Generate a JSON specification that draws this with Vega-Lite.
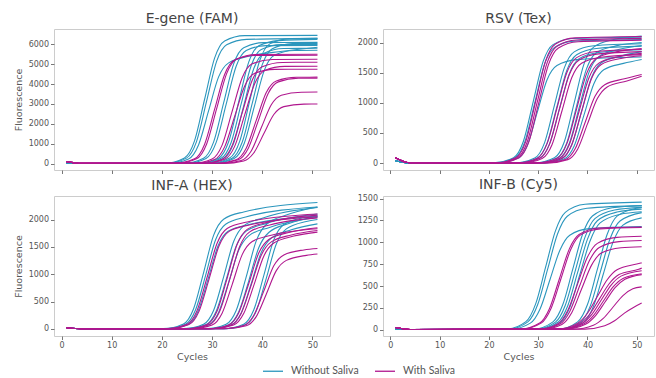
{
"$schema": "https://vega.github.io/schema/vega-lite/v6.json",
"padding": {"left": 12, "top": 11, "right": 0, "bottom": 0},
"datasets": {
"E": [
{"c":"b1","s":"W","x":1,"y":40},{"c":"b1","s":"W","x":4,"y":5},{"c":"b1","s":"W","x":20.5,"y":13},{"c":"b1","s":"W","x":24.5,"y":284},{"c":"b1","s":"W","x":26.5,"y":1142},{"c":"b1","s":"W","x":28.5,"y":3225},{"c":"b1","s":"W","x":30.5,"y":5308},{"c":"b1","s":"W","x":32.5,"y":6166},{"c":"b1","s":"W","x":36.5,"y":6437},{"c":"b1","s":"W","x":51,"y":6450},
{"c":"b2","s":"W","x":1,"y":30},{"c":"b2","s":"W","x":4,"y":5},{"c":"b2","s":"W","x":20.9,"y":13},{"c":"b2","s":"W","x":24.9,"y":275},{"c":"b2","s":"W","x":26.9,"y":1106},{"c":"b2","s":"W","x":28.9,"y":3125},{"c":"b2","s":"W","x":30.9,"y":5144},{"c":"b2","s":"W","x":32.9,"y":5975},{"c":"b2","s":"W","x":36.9,"y":6250},{"c":"b2","s":"W","x":51,"y":6300},
{"c":"b3","s":"W","x":1,"y":30},{"c":"b3","s":"W","x":4,"y":5},{"c":"b3","s":"W","x":21.3,"y":11},{"c":"b3","s":"W","x":25.3,"y":233},{"c":"b3","s":"W","x":27.3,"y":938},{"c":"b3","s":"W","x":29.3,"y":2650},{"c":"b3","s":"W","x":31.3,"y":4362},{"c":"b3","s":"W","x":33.3,"y":5067},{"c":"b3","s":"W","x":37.3,"y":5400},{"c":"b3","s":"W","x":44,"y":5650},{"c":"b3","s":"W","x":51,"y":5850},
{"c":"b4","s":"W","x":1,"y":30},{"c":"b4","s":"W","x":4,"y":5},{"c":"b4","s":"W","x":24.3,"y":12},{"c":"b4","s":"W","x":28.3,"y":268},{"c":"b4","s":"W","x":30.3,"y":1080},{"c":"b4","s":"W","x":32.3,"y":3050},{"c":"b4","s":"W","x":34.3,"y":5020},{"c":"b4","s":"W","x":36.3,"y":5832},{"c":"b4","s":"W","x":40.3,"y":6088},{"c":"b4","s":"W","x":51,"y":6100},
{"c":"b5","s":"W","x":1,"y":30},{"c":"b5","s":"W","x":4,"y":5},{"c":"b5","s":"W","x":24.8,"y":12},{"c":"b5","s":"W","x":28.8,"y":262},{"c":"b5","s":"W","x":30.8,"y":1053},{"c":"b5","s":"W","x":32.8,"y":2975},{"c":"b5","s":"W","x":34.8,"y":4897},{"c":"b5","s":"W","x":36.8,"y":5688},{"c":"b5","s":"W","x":40.8,"y":5938},{"c":"b5","s":"W","x":51,"y":5950},
{"c":"b6","s":"W","x":1,"y":30},{"c":"b6","s":"W","x":4,"y":5},{"c":"b6","s":"W","x":27.3,"y":12},{"c":"b6","s":"W","x":31.3,"y":273},{"c":"b6","s":"W","x":33.3,"y":1097},{"c":"b6","s":"W","x":35.3,"y":3100},{"c":"b6","s":"W","x":37.3,"y":5103},{"c":"b6","s":"W","x":39.3,"y":5927},{"c":"b6","s":"W","x":43.3,"y":6188},{"c":"b6","s":"W","x":51,"y":6250},
{"c":"b7","s":"W","x":1,"y":30},{"c":"b7","s":"W","x":4,"y":5},{"c":"b7","s":"W","x":27.8,"y":12},{"c":"b7","s":"W","x":31.8,"y":264},{"c":"b7","s":"W","x":33.8,"y":1062},{"c":"b7","s":"W","x":35.8,"y":3000},{"c":"b7","s":"W","x":37.8,"y":4938},{"c":"b7","s":"W","x":39.8,"y":5736},{"c":"b7","s":"W","x":43.8,"y":5988},{"c":"b7","s":"W","x":51,"y":6000},
{"c":"b8","s":"W","x":1,"y":30},{"c":"b8","s":"W","x":4,"y":5},{"c":"b8","s":"W","x":28.3,"y":12},{"c":"b8","s":"W","x":32.3,"y":255},{"c":"b8","s":"W","x":34.3,"y":1027},{"c":"b8","s":"W","x":36.3,"y":2900},{"c":"b8","s":"W","x":38.3,"y":4773},{"c":"b8","s":"W","x":40.3,"y":5545},{"c":"b8","s":"W","x":44.3,"y":5788},{"c":"b8","s":"W","x":51,"y":5800},
{"c":"b9","s":"W","x":1,"y":30},{"c":"b9","s":"W","x":4,"y":5},{"c":"b9","s":"W","x":29.5,"y":13},{"c":"b9","s":"W","x":33.5,"y":277},{"c":"b9","s":"W","x":35.5,"y":1115},{"c":"b9","s":"W","x":37.5,"y":3150},{"c":"b9","s":"W","x":39.5,"y":5185},{"c":"b9","s":"W","x":41.5,"y":6023},{"c":"b9","s":"W","x":45.5,"y":6287},{"c":"b9","s":"W","x":51,"y":6300},
{"c":"b10","s":"W","x":1,"y":30},{"c":"b10","s":"W","x":4,"y":5},{"c":"b10","s":"W","x":30,"y":12},{"c":"b10","s":"W","x":34,"y":266},{"c":"b10","s":"W","x":36,"y":1071},{"c":"b10","s":"W","x":38,"y":3025},{"c":"b10","s":"W","x":40,"y":4979},{"c":"b10","s":"W","x":42,"y":5784},{"c":"b10","s":"W","x":46,"y":6038},{"c":"b10","s":"W","x":51,"y":6050},
{"c":"b11","s":"W","x":1,"y":30},{"c":"b11","s":"W","x":4,"y":5},{"c":"b11","s":"W","x":30.4,"y":11},{"c":"b11","s":"W","x":34.4,"y":251},{"c":"b11","s":"W","x":36.4,"y":1009},{"c":"b11","s":"W","x":38.4,"y":2850},{"c":"b11","s":"W","x":40.4,"y":4691},{"c":"b11","s":"W","x":42.4,"y":5449},{"c":"b11","s":"W","x":46.4,"y":5689},{"c":"b11","s":"W","x":51,"y":5700},
{"c":"s1","s":"S","x":1,"y":100},{"c":"s1","s":"S","x":4,"y":10},{"c":"s1","s":"S","x":22.5,"y":11},{"c":"s1","s":"S","x":26.5,"y":240},{"c":"s1","s":"S","x":28.5,"y":965},{"c":"s1","s":"S","x":30.5,"y":2725},{"c":"s1","s":"S","x":32.5,"y":4485},{"c":"s1","s":"S","x":34.5,"y":5210},{"c":"s1","s":"S","x":38.5,"y":5439},{"c":"s1","s":"S","x":51,"y":5450},
{"c":"s2","s":"S","x":1,"y":90},{"c":"s2","s":"S","x":4,"y":10},{"c":"s2","s":"S","x":22.9,"y":11},{"c":"s2","s":"S","x":26.9,"y":242},{"c":"s2","s":"S","x":28.9,"y":974},{"c":"s2","s":"S","x":30.9,"y":2750},{"c":"s2","s":"S","x":32.9,"y":4527},{"c":"s2","s":"S","x":34.9,"y":5258},{"c":"s2","s":"S","x":38.9,"y":5489},{"c":"s2","s":"S","x":51,"y":5500},
{"c":"s3","s":"S","x":1,"y":100},{"c":"s3","s":"S","x":4,"y":10},{"c":"s3","s":"S","x":26,"y":11},{"c":"s3","s":"S","x":30,"y":231},{"c":"s3","s":"S","x":32,"y":929},{"c":"s3","s":"S","x":34,"y":2625},{"c":"s3","s":"S","x":36,"y":4321},{"c":"s3","s":"S","x":38,"y":5019},{"c":"s3","s":"S","x":42,"y":5240},{"c":"s3","s":"S","x":51,"y":5250},
{"c":"s4","s":"S","x":1,"y":100},{"c":"s4","s":"S","x":4,"y":10},{"c":"s4","s":"S","x":26.5,"y":10},{"c":"s4","s":"S","x":30.5,"y":209},{"c":"s4","s":"S","x":32.5,"y":841},{"c":"s4","s":"S","x":34.5,"y":2375},{"c":"s4","s":"S","x":36.5,"y":3909},{"c":"s4","s":"S","x":38.5,"y":4541},{"c":"s4","s":"S","x":42.5,"y":4741},{"c":"s4","s":"S","x":51,"y":4750},
{"c":"s5","s":"S","x":1,"y":100},{"c":"s5","s":"S","x":4,"y":10},{"c":"s5","s":"S","x":28,"y":10},{"c":"s5","s":"S","x":32,"y":224},{"c":"s5","s":"S","x":34,"y":903},{"c":"s5","s":"S","x":36,"y":2550},{"c":"s5","s":"S","x":38,"y":4197},{"c":"s5","s":"S","x":40,"y":4876},{"c":"s5","s":"S","x":44,"y":5090},{"c":"s5","s":"S","x":51,"y":5100},
{"c":"s6","s":"S","x":1,"y":100},{"c":"s6","s":"S","x":4,"y":10},{"c":"s6","s":"S","x":28.5,"y":10},{"c":"s6","s":"S","x":32.5,"y":216},{"c":"s6","s":"S","x":34.5,"y":867},{"c":"s6","s":"S","x":36.5,"y":2450},{"c":"s6","s":"S","x":38.5,"y":4033},{"c":"s6","s":"S","x":40.5,"y":4684},{"c":"s6","s":"S","x":44.5,"y":4890},{"c":"s6","s":"S","x":51,"y":4900},
{"c":"s7","s":"S","x":1,"y":100},{"c":"s7","s":"S","x":4,"y":10},{"c":"s7","s":"S","x":30.8,"y":9},{"c":"s7","s":"S","x":34.8,"y":191},{"c":"s7","s":"S","x":36.8,"y":770},{"c":"s7","s":"S","x":38.8,"y":2175},{"c":"s7","s":"S","x":40.8,"y":3580},{"c":"s7","s":"S","x":42.8,"y":4159},{"c":"s7","s":"S","x":46.8,"y":4341},{"c":"s7","s":"S","x":51,"y":4350},
{"c":"s8","s":"S","x":1,"y":100},{"c":"s8","s":"S","x":4,"y":10},{"c":"s8","s":"S","x":31.2,"y":9},{"c":"s8","s":"S","x":35.2,"y":189},{"c":"s8","s":"S","x":37.2,"y":761},{"c":"s8","s":"S","x":39.2,"y":2150},{"c":"s8","s":"S","x":41.2,"y":3539},{"c":"s8","s":"S","x":43.2,"y":4111},{"c":"s8","s":"S","x":47.2,"y":4291},{"c":"s8","s":"S","x":51,"y":4300},
{"c":"s9","s":"S","x":1,"y":100},{"c":"s9","s":"S","x":4,"y":10},{"c":"s9","s":"S","x":31.8,"y":7},{"c":"s9","s":"S","x":35.8,"y":158},{"c":"s9","s":"S","x":37.8,"y":637},{"c":"s9","s":"S","x":39.8,"y":1800},{"c":"s9","s":"S","x":41.8,"y":2963},{"c":"s9","s":"S","x":43.8,"y":3442},{"c":"s9","s":"S","x":47.8,"y":3593},{"c":"s9","s":"S","x":51,"y":3600},
{"c":"s10","s":"S","x":1,"y":100},{"c":"s10","s":"S","x":4,"y":10},{"c":"s10","s":"S","x":32.3,"y":6},{"c":"s10","s":"S","x":36.3,"y":132},{"c":"s10","s":"S","x":38.3,"y":531},{"c":"s10","s":"S","x":40.3,"y":1500},{"c":"s10","s":"S","x":42.3,"y":2469},{"c":"s10","s":"S","x":44.3,"y":2868},{"c":"s10","s":"S","x":48.3,"y":2994},{"c":"s10","s":"S","x":51,"y":3000}
],
"R": [
{"c":"b1","s":"W","x":1,"y":40},{"c":"b1","s":"W","x":4,"y":0},{"c":"b1","s":"W","x":21,"y":4},{"c":"b1","s":"W","x":25,"y":90},{"c":"b1","s":"W","x":27,"y":363},{"c":"b1","s":"W","x":29,"y":1025},{"c":"b1","s":"W","x":31,"y":1687},{"c":"b1","s":"W","x":33,"y":1966},{"c":"b1","s":"W","x":37,"y":2068},{"c":"b1","s":"W","x":51,"y":2090},
{"c":"b2","s":"W","x":1,"y":40},{"c":"b2","s":"W","x":4,"y":0},{"c":"b2","s":"W","x":21.3,"y":4},{"c":"b2","s":"W","x":25.3,"y":88},{"c":"b2","s":"W","x":27.3,"y":354},{"c":"b2","s":"W","x":29.3,"y":1000},{"c":"b2","s":"W","x":31.3,"y":1646},{"c":"b2","s":"W","x":33.3,"y":1920},{"c":"b2","s":"W","x":37.3,"y":2023},{"c":"b2","s":"W","x":51,"y":2050},
{"c":"b3","s":"W","x":1,"y":40},{"c":"b3","s":"W","x":4,"y":0},{"c":"b3","s":"W","x":21.8,"y":3},{"c":"b3","s":"W","x":25.8,"y":74},{"c":"b3","s":"W","x":27.8,"y":297},{"c":"b3","s":"W","x":29.8,"y":840},{"c":"b3","s":"W","x":31.8,"y":1383},{"c":"b3","s":"W","x":33.8,"y":1618},{"c":"b3","s":"W","x":37.8,"y":1716},{"c":"b3","s":"W","x":51,"y":1760},
{"c":"b4","s":"W","x":1,"y":40},{"c":"b4","s":"W","x":4,"y":0},{"c":"b4","s":"W","x":25.3,"y":4},{"c":"b4","s":"W","x":29.3,"y":84},{"c":"b4","s":"W","x":31.3,"y":340},{"c":"b4","s":"W","x":33.3,"y":960},{"c":"b4","s":"W","x":35.3,"y":1580},{"c":"b4","s":"W","x":37.3,"y":1845},{"c":"b4","s":"W","x":41.3,"y":1947},{"c":"b4","s":"W","x":51,"y":1980},
{"c":"b5","s":"W","x":1,"y":40},{"c":"b5","s":"W","x":4,"y":0},{"c":"b5","s":"W","x":25.8,"y":4},{"c":"b5","s":"W","x":29.8,"y":82},{"c":"b5","s":"W","x":31.8,"y":331},{"c":"b5","s":"W","x":33.8,"y":935},{"c":"b5","s":"W","x":35.8,"y":1539},{"c":"b5","s":"W","x":37.8,"y":1798},{"c":"b5","s":"W","x":41.8,"y":1902},{"c":"b5","s":"W","x":51,"y":1940},
{"c":"b6","s":"W","x":1,"y":40},{"c":"b6","s":"W","x":4,"y":0},{"c":"b6","s":"W","x":26.3,"y":4},{"c":"b6","s":"W","x":30.3,"y":79},{"c":"b6","s":"W","x":32.3,"y":319},{"c":"b6","s":"W","x":34.3,"y":900},{"c":"b6","s":"W","x":36.3,"y":1481},{"c":"b6","s":"W","x":38.3,"y":1733},{"c":"b6","s":"W","x":42.3,"y":1836},{"c":"b6","s":"W","x":51,"y":1880},
{"c":"b7","s":"W","x":1,"y":40},{"c":"b7","s":"W","x":4,"y":0},{"c":"b7","s":"W","x":29.3,"y":4},{"c":"b7","s":"W","x":33.3,"y":88},{"c":"b7","s":"W","x":35.3,"y":354},{"c":"b7","s":"W","x":37.3,"y":1000},{"c":"b7","s":"W","x":39.3,"y":1646},{"c":"b7","s":"W","x":41.3,"y":1929},{"c":"b7","s":"W","x":45.3,"y":2050},{"c":"b7","s":"W","x":51,"y":2110},
{"c":"b8","s":"W","x":1,"y":40},{"c":"b8","s":"W","x":4,"y":0},{"c":"b8","s":"W","x":29.8,"y":4},{"c":"b8","s":"W","x":33.8,"y":84},{"c":"b8","s":"W","x":35.8,"y":336},{"c":"b8","s":"W","x":37.8,"y":950},{"c":"b8","s":"W","x":39.8,"y":1564},{"c":"b8","s":"W","x":41.8,"y":1831},{"c":"b8","s":"W","x":45.8,"y":1945},{"c":"b8","s":"W","x":51,"y":2000},
{"c":"b9","s":"W","x":1,"y":40},{"c":"b9","s":"W","x":4,"y":0},{"c":"b9","s":"W","x":30.3,"y":4},{"c":"b9","s":"W","x":34.3,"y":81},{"c":"b9","s":"W","x":36.3,"y":324},{"c":"b9","s":"W","x":38.3,"y":915},{"c":"b9","s":"W","x":40.3,"y":1506},{"c":"b9","s":"W","x":42.3,"y":1767},{"c":"b9","s":"W","x":46.3,"y":1884},{"c":"b9","s":"W","x":51,"y":1950},
{"c":"b10","s":"W","x":1,"y":40},{"c":"b10","s":"W","x":4,"y":0},{"c":"b10","s":"W","x":30.8,"y":3},{"c":"b10","s":"W","x":34.8,"y":76},{"c":"b10","s":"W","x":36.8,"y":304},{"c":"b10","s":"W","x":38.8,"y":860},{"c":"b10","s":"W","x":40.8,"y":1416},{"c":"b10","s":"W","x":42.8,"y":1664},{"c":"b10","s":"W","x":46.8,"y":1778},{"c":"b10","s":"W","x":51,"y":1850},
{"c":"b11","s":"W","x":1,"y":40},{"c":"b11","s":"W","x":4,"y":0},{"c":"b11","s":"W","x":31.3,"y":3},{"c":"b11","s":"W","x":35.3,"y":70},{"c":"b11","s":"W","x":37.3,"y":283},{"c":"b11","s":"W","x":39.3,"y":800},{"c":"b11","s":"W","x":41.3,"y":1317},{"c":"b11","s":"W","x":43.3,"y":1548},{"c":"b11","s":"W","x":47.3,"y":1654},{"c":"b11","s":"W","x":51,"y":1720},
{"c":"s1","s":"S","x":1,"y":90},{"c":"s1","s":"S","x":4,"y":5},{"c":"s1","s":"S","x":21.5,"y":4},{"c":"s1","s":"S","x":25.5,"y":91},{"c":"s1","s":"S","x":27.5,"y":365},{"c":"s1","s":"S","x":29.5,"y":1030},{"c":"s1","s":"S","x":31.5,"y":1695},{"c":"s1","s":"S","x":33.5,"y":1975},{"c":"s1","s":"S","x":37.5,"y":2078},{"c":"s1","s":"S","x":51,"y":2100},
{"c":"s2","s":"S","x":1,"y":90},{"c":"s2","s":"S","x":4,"y":5},{"c":"s2","s":"S","x":21.8,"y":4},{"c":"s2","s":"S","x":25.8,"y":89},{"c":"s2","s":"S","x":27.8,"y":358},{"c":"s2","s":"S","x":29.8,"y":1010},{"c":"s2","s":"S","x":31.8,"y":1662},{"c":"s2","s":"S","x":33.8,"y":1939},{"c":"s2","s":"S","x":37.8,"y":2043},{"c":"s2","s":"S","x":51,"y":2070},
{"c":"s3","s":"S","x":1,"y":90},{"c":"s3","s":"S","x":4,"y":5},{"c":"s3","s":"S","x":22.1,"y":4},{"c":"s3","s":"S","x":26.1,"y":88},{"c":"s3","s":"S","x":28.1,"y":352},{"c":"s3","s":"S","x":30.1,"y":995},{"c":"s3","s":"S","x":32.1,"y":1638},{"c":"s3","s":"S","x":34.1,"y":1910},{"c":"s3","s":"S","x":38.1,"y":2013},{"c":"s3","s":"S","x":51,"y":2040},
{"c":"s4","s":"S","x":1,"y":90},{"c":"s4","s":"S","x":4,"y":5},{"c":"s4","s":"S","x":25.8,"y":4},{"c":"s4","s":"S","x":29.8,"y":80},{"c":"s4","s":"S","x":31.8,"y":322},{"c":"s4","s":"S","x":33.8,"y":910},{"c":"s4","s":"S","x":35.8,"y":1498},{"c":"s4","s":"S","x":37.8,"y":1750},{"c":"s4","s":"S","x":41.8,"y":1852},{"c":"s4","s":"S","x":51,"y":1890},
{"c":"s5","s":"S","x":1,"y":90},{"c":"s5","s":"S","x":4,"y":5},{"c":"s5","s":"S","x":26.3,"y":4},{"c":"s5","s":"S","x":30.3,"y":78},{"c":"s5","s":"S","x":32.3,"y":315},{"c":"s5","s":"S","x":34.3,"y":890},{"c":"s5","s":"S","x":36.3,"y":1465},{"c":"s5","s":"S","x":38.3,"y":1712},{"c":"s5","s":"S","x":42.3,"y":1812},{"c":"s5","s":"S","x":51,"y":1850},
{"c":"s6","s":"S","x":1,"y":90},{"c":"s6","s":"S","x":4,"y":5},{"c":"s6","s":"S","x":26.8,"y":3},{"c":"s6","s":"S","x":30.8,"y":76},{"c":"s6","s":"S","x":32.8,"y":304},{"c":"s6","s":"S","x":34.8,"y":860},{"c":"s6","s":"S","x":36.8,"y":1416},{"c":"s6","s":"S","x":38.8,"y":1656},{"c":"s6","s":"S","x":42.8,"y":1756},{"c":"s6","s":"S","x":51,"y":1800},
{"c":"s7","s":"S","x":1,"y":90},{"c":"s7","s":"S","x":4,"y":5},{"c":"s7","s":"S","x":29.8,"y":4},{"c":"s7","s":"S","x":33.8,"y":79},{"c":"s7","s":"S","x":35.8,"y":319},{"c":"s7","s":"S","x":37.8,"y":900},{"c":"s7","s":"S","x":39.8,"y":1481},{"c":"s7","s":"S","x":41.8,"y":1736},{"c":"s7","s":"S","x":45.8,"y":1845},{"c":"s7","s":"S","x":51,"y":1900},
{"c":"s8","s":"S","x":1,"y":90},{"c":"s8","s":"S","x":4,"y":5},{"c":"s8","s":"S","x":30.3,"y":3},{"c":"s8","s":"S","x":34.3,"y":76},{"c":"s8","s":"S","x":36.3,"y":304},{"c":"s8","s":"S","x":38.3,"y":860},{"c":"s8","s":"S","x":40.3,"y":1416},{"c":"s8","s":"S","x":42.3,"y":1659},{"c":"s8","s":"S","x":46.3,"y":1765},{"c":"s8","s":"S","x":51,"y":1820},
{"c":"s9","s":"S","x":1,"y":90},{"c":"s9","s":"S","x":4,"y":5},{"c":"s9","s":"S","x":30.8,"y":3},{"c":"s9","s":"S","x":34.8,"y":75},{"c":"s9","s":"S","x":36.8,"y":301},{"c":"s9","s":"S","x":38.8,"y":850},{"c":"s9","s":"S","x":40.8,"y":1399},{"c":"s9","s":"S","x":42.8,"y":1637},{"c":"s9","s":"S","x":46.8,"y":1736},{"c":"s9","s":"S","x":51,"y":1780},
{"c":"s10","s":"S","x":1,"y":90},{"c":"s10","s":"S","x":4,"y":5},{"c":"s10","s":"S","x":31.5,"y":3},{"c":"s10","s":"S","x":35.5,"y":59},{"c":"s10","s":"S","x":37.5,"y":237},{"c":"s10","s":"S","x":39.5,"y":670},{"c":"s10","s":"S","x":41.5,"y":1103},{"c":"s10","s":"S","x":43.5,"y":1301},{"c":"s10","s":"S","x":47.5,"y":1398},{"c":"s10","s":"S","x":51,"y":1470},
{"c":"s11","s":"S","x":1,"y":90},{"c":"s11","s":"S","x":4,"y":5},{"c":"s11","s":"S","x":32,"y":3},{"c":"s11","s":"S","x":36,"y":57},{"c":"s11","s":"S","x":38,"y":230},{"c":"s11","s":"S","x":40,"y":650},{"c":"s11","s":"S","x":42,"y":1070},{"c":"s11","s":"S","x":44,"y":1264},{"c":"s11","s":"S","x":48,"y":1363},{"c":"s11","s":"S","x":51,"y":1440}
],
"A": [
{"c":"b1","s":"W","x":1,"y":20},{"c":"b1","s":"W","x":4,"y":3},{"c":"b1","s":"W","x":20.3,"y":4},{"c":"b1","s":"W","x":24.3,"y":90},{"c":"b1","s":"W","x":26.3,"y":363},{"c":"b1","s":"W","x":28.3,"y":1025},{"c":"b1","s":"W","x":30.3,"y":1710},{"c":"b1","s":"W","x":32.3,"y":2006},{"c":"b1","s":"W","x":36.3,"y":2138},{"c":"b1","s":"W","x":51,"y":2310},
{"c":"b2","s":"W","x":1,"y":20},{"c":"b2","s":"W","x":4,"y":3},{"c":"b2","s":"W","x":20.7,"y":4},{"c":"b2","s":"W","x":24.7,"y":86},{"c":"b2","s":"W","x":26.7,"y":345},{"c":"b2","s":"W","x":28.7,"y":975},{"c":"b2","s":"W","x":30.7,"y":1630},{"c":"b2","s":"W","x":32.7,"y":1914},{"c":"b2","s":"W","x":36.7,"y":2046},{"c":"b2","s":"W","x":51,"y":2230},
{"c":"b3","s":"W","x":1,"y":20},{"c":"b3","s":"W","x":4,"y":3},{"c":"b3","s":"W","x":21.2,"y":4},{"c":"b3","s":"W","x":25.2,"y":80},{"c":"b3","s":"W","x":27.2,"y":322},{"c":"b3","s":"W","x":29.2,"y":910},{"c":"b3","s":"W","x":31.2,"y":1520},{"c":"b3","s":"W","x":33.2,"y":1784},{"c":"b3","s":"W","x":37.2,"y":1904},{"c":"b3","s":"W","x":51,"y":2060},
{"c":"b4","s":"W","x":1,"y":20},{"c":"b4","s":"W","x":4,"y":3},{"c":"b4","s":"W","x":24.3,"y":4},{"c":"b4","s":"W","x":28.3,"y":84},{"c":"b4","s":"W","x":30.3,"y":336},{"c":"b4","s":"W","x":32.3,"y":950},{"c":"b4","s":"W","x":34.3,"y":1598},{"c":"b4","s":"W","x":36.3,"y":1884},{"c":"b4","s":"W","x":40.3,"y":2033},{"c":"b4","s":"W","x":51,"y":2220},
{"c":"b5","s":"W","x":1,"y":20},{"c":"b5","s":"W","x":4,"y":3},{"c":"b5","s":"W","x":24.8,"y":4},{"c":"b5","s":"W","x":28.8,"y":79},{"c":"b5","s":"W","x":30.8,"y":319},{"c":"b5","s":"W","x":32.8,"y":900},{"c":"b5","s":"W","x":34.8,"y":1514},{"c":"b5","s":"W","x":36.8,"y":1787},{"c":"b5","s":"W","x":40.8,"y":1928},{"c":"b5","s":"W","x":51,"y":2100},
{"c":"b6","s":"W","x":1,"y":20},{"c":"b6","s":"W","x":4,"y":3},{"c":"b6","s":"W","x":25.3,"y":3},{"c":"b6","s":"W","x":29.3,"y":75},{"c":"b6","s":"W","x":31.3,"y":301},{"c":"b6","s":"W","x":33.3,"y":850},{"c":"b6","s":"W","x":35.3,"y":1437},{"c":"b6","s":"W","x":37.3,"y":1702},{"c":"b6","s":"W","x":41.3,"y":1851},{"c":"b6","s":"W","x":51,"y":2040},
{"c":"b7","s":"W","x":1,"y":20},{"c":"b7","s":"W","x":4,"y":3},{"c":"b7","s":"W","x":28.8,"y":4},{"c":"b7","s":"W","x":32.8,"y":84},{"c":"b7","s":"W","x":34.8,"y":336},{"c":"b7","s":"W","x":36.8,"y":950},{"c":"b7","s":"W","x":38.8,"y":1610},{"c":"b7","s":"W","x":40.8,"y":1909},{"c":"b7","s":"W","x":44.8,"y":2082},{"c":"b7","s":"W","x":51,"y":2230},
{"c":"b8","s":"W","x":1,"y":20},{"c":"b8","s":"W","x":4,"y":3},{"c":"b8","s":"W","x":29.3,"y":4},{"c":"b8","s":"W","x":33.3,"y":77},{"c":"b8","s":"W","x":35.3,"y":310},{"c":"b8","s":"W","x":37.3,"y":875},{"c":"b8","s":"W","x":39.3,"y":1485},{"c":"b8","s":"W","x":41.3,"y":1763},{"c":"b8","s":"W","x":45.3,"y":1928},{"c":"b8","s":"W","x":51,"y":2060},
{"c":"b9","s":"W","x":1,"y":20},{"c":"b9","s":"W","x":4,"y":3},{"c":"b9","s":"W","x":29.8,"y":3},{"c":"b9","s":"W","x":33.8,"y":73},{"c":"b9","s":"W","x":35.8,"y":292},{"c":"b9","s":"W","x":37.8,"y":825},{"c":"b9","s":"W","x":39.8,"y":1399},{"c":"b9","s":"W","x":41.8,"y":1659},{"c":"b9","s":"W","x":45.8,"y":1811},{"c":"b9","s":"W","x":51,"y":1920},
{"c":"b10","s":"W","x":1,"y":20},{"c":"b10","s":"W","x":4,"y":3},{"c":"b10","s":"W","x":32.3,"y":4},{"c":"b10","s":"W","x":36.3,"y":86},{"c":"b10","s":"W","x":38.3,"y":345},{"c":"b10","s":"W","x":40.3,"y":975},{"c":"b10","s":"W","x":42.3,"y":1627},{"c":"b10","s":"W","x":44.3,"y":1909},{"c":"b10","s":"W","x":48.3,"y":2036},{"c":"b10","s":"W","x":51,"y":2070},
{"c":"b11","s":"W","x":1,"y":20},{"c":"b11","s":"W","x":4,"y":3},{"c":"b11","s":"W","x":32.8,"y":4},{"c":"b11","s":"W","x":36.8,"y":81},{"c":"b11","s":"W","x":38.8,"y":327},{"c":"b11","s":"W","x":40.8,"y":925},{"c":"b11","s":"W","x":42.8,"y":1552},{"c":"b11","s":"W","x":44.8,"y":1828},{"c":"b11","s":"W","x":48.8,"y":1964},{"c":"b11","s":"W","x":51,"y":2000},
{"c":"s1","s":"S","x":1,"y":20},{"c":"s1","s":"S","x":4,"y":3},{"c":"s1","s":"S","x":21,"y":4},{"c":"s1","s":"S","x":25,"y":83},{"c":"s1","s":"S","x":27,"y":333},{"c":"s1","s":"S","x":29,"y":940},{"c":"s1","s":"S","x":31,"y":1567},{"c":"s1","s":"S","x":33,"y":1837},{"c":"s1","s":"S","x":37,"y":1956},{"c":"s1","s":"S","x":51,"y":2100},
{"c":"s2","s":"S","x":1,"y":20},{"c":"s2","s":"S","x":4,"y":3},{"c":"s2","s":"S","x":21.4,"y":4},{"c":"s2","s":"S","x":25.4,"y":80},{"c":"s2","s":"S","x":27.4,"y":322},{"c":"s2","s":"S","x":29.4,"y":910},{"c":"s2","s":"S","x":31.4,"y":1519},{"c":"s2","s":"S","x":33.4,"y":1783},{"c":"s2","s":"S","x":37.4,"y":1901},{"c":"s2","s":"S","x":51,"y":2050},
{"c":"s3","s":"S","x":1,"y":20},{"c":"s3","s":"S","x":4,"y":3},{"c":"s3","s":"S","x":25,"y":4},{"c":"s3","s":"S","x":29,"y":81},{"c":"s3","s":"S","x":31,"y":327},{"c":"s3","s":"S","x":33,"y":925},{"c":"s3","s":"S","x":35,"y":1549},{"c":"s3","s":"S","x":37,"y":1820},{"c":"s3","s":"S","x":41,"y":1948},{"c":"s3","s":"S","x":51,"y":2080},
{"c":"s4","s":"S","x":1,"y":20},{"c":"s4","s":"S","x":4,"y":3},{"c":"s4","s":"S","x":25.5,"y":4},{"c":"s4","s":"S","x":29.5,"y":79},{"c":"s4","s":"S","x":31.5,"y":319},{"c":"s4","s":"S","x":33.5,"y":900},{"c":"s4","s":"S","x":35.5,"y":1507},{"c":"s4","s":"S","x":37.5,"y":1774},{"c":"s4","s":"S","x":41.5,"y":1901},{"c":"s4","s":"S","x":51,"y":2030},
{"c":"s5","s":"S","x":1,"y":20},{"c":"s5","s":"S","x":4,"y":3},{"c":"s5","s":"S","x":26,"y":3},{"c":"s5","s":"S","x":30,"y":71},{"c":"s5","s":"S","x":32,"y":287},{"c":"s5","s":"S","x":34,"y":810},{"c":"s5","s":"S","x":36,"y":1358},{"c":"s5","s":"S","x":38,"y":1598},{"c":"s5","s":"S","x":42,"y":1716},{"c":"s5","s":"S","x":51,"y":1830},
{"c":"s6","s":"S","x":1,"y":20},{"c":"s6","s":"S","x":4,"y":3},{"c":"s6","s":"S","x":29.3,"y":3},{"c":"s6","s":"S","x":33.3,"y":73},{"c":"s6","s":"S","x":35.3,"y":292},{"c":"s6","s":"S","x":37.3,"y":825},{"c":"s6","s":"S","x":39.3,"y":1387},{"c":"s6","s":"S","x":41.3,"y":1635},{"c":"s6","s":"S","x":45.3,"y":1764},{"c":"s6","s":"S","x":51,"y":1850},
{"c":"s7","s":"S","x":1,"y":20},{"c":"s7","s":"S","x":4,"y":3},{"c":"s7","s":"S","x":29.8,"y":3},{"c":"s7","s":"S","x":33.8,"y":70},{"c":"s7","s":"S","x":35.8,"y":283},{"c":"s7","s":"S","x":37.8,"y":800},{"c":"s7","s":"S","x":39.8,"y":1347},{"c":"s7","s":"S","x":41.8,"y":1591},{"c":"s7","s":"S","x":45.8,"y":1718},{"c":"s7","s":"S","x":51,"y":1800},
{"c":"s8","s":"S","x":1,"y":20},{"c":"s8","s":"S","x":4,"y":3},{"c":"s8","s":"S","x":30.3,"y":3},{"c":"s8","s":"S","x":34.3,"y":70},{"c":"s8","s":"S","x":36.3,"y":280},{"c":"s8","s":"S","x":38.3,"y":790},{"c":"s8","s":"S","x":40.3,"y":1330},{"c":"s8","s":"S","x":42.3,"y":1570},{"c":"s8","s":"S","x":46.3,"y":1697},{"c":"s8","s":"S","x":51,"y":1770},
{"c":"s9","s":"S","x":1,"y":20},{"c":"s9","s":"S","x":4,"y":3},{"c":"s9","s":"S","x":32.3,"y":3},{"c":"s9","s":"S","x":36.3,"y":61},{"c":"s9","s":"S","x":38.3,"y":244},{"c":"s9","s":"S","x":40.3,"y":690},{"c":"s9","s":"S","x":42.3,"y":1153},{"c":"s9","s":"S","x":44.3,"y":1353},{"c":"s9","s":"S","x":48.3,"y":1444},{"c":"s9","s":"S","x":51,"y":1470},
{"c":"s10","s":"S","x":1,"y":20},{"c":"s10","s":"S","x":4,"y":3},{"c":"s10","s":"S","x":32.8,"y":3},{"c":"s10","s":"S","x":36.8,"y":56},{"c":"s10","s":"S","x":38.8,"y":225},{"c":"s10","s":"S","x":40.8,"y":635},{"c":"s10","s":"S","x":42.8,"y":1065},{"c":"s10","s":"S","x":44.8,"y":1253},{"c":"s10","s":"S","x":48.8,"y":1345},{"c":"s10","s":"S","x":51,"y":1370}
],
"B": [
{"c":"b1","s":"W","x":1,"y":10},{"c":"b1","s":"W","x":4,"y":2},{"c":"b1","s":"W","x":23.5,"y":7},{"c":"b1","s":"W","x":27.5,"y":93},{"c":"b1","s":"W","x":29.5,"y":299},{"c":"b1","s":"W","x":31.5,"y":715},{"c":"b1","s":"W","x":33.5,"y":1131},{"c":"b1","s":"W","x":35.5,"y":1342},{"c":"b1","s":"W","x":39.5,"y":1435},{"c":"b1","s":"W","x":51,"y":1460},
{"c":"b2","s":"W","x":1,"y":10},{"c":"b2","s":"W","x":4,"y":2},{"c":"b2","s":"W","x":23.9,"y":7},{"c":"b2","s":"W","x":27.9,"y":90},{"c":"b2","s":"W","x":29.9,"y":288},{"c":"b2","s":"W","x":31.9,"y":690},{"c":"b2","s":"W","x":33.9,"y":1092},{"c":"b2","s":"W","x":35.9,"y":1298},{"c":"b2","s":"W","x":39.9,"y":1390},{"c":"b2","s":"W","x":51,"y":1420},
{"c":"b3","s":"W","x":1,"y":10},{"c":"b3","s":"W","x":4,"y":2},{"c":"b3","s":"W","x":24.4,"y":6},{"c":"b3","s":"W","x":28.4,"y":75},{"c":"b3","s":"W","x":30.4,"y":240},{"c":"b3","s":"W","x":32.4,"y":575},{"c":"b3","s":"W","x":34.4,"y":910},{"c":"b3","s":"W","x":36.4,"y":1081},{"c":"b3","s":"W","x":40.4,"y":1157},{"c":"b3","s":"W","x":51,"y":1180},
{"c":"b4","s":"W","x":1,"y":10},{"c":"b4","s":"W","x":4,"y":2},{"c":"b4","s":"W","x":29,"y":7},{"c":"b4","s":"W","x":33,"y":90},{"c":"b4","s":"W","x":35,"y":288},{"c":"b4","s":"W","x":37,"y":690},{"c":"b4","s":"W","x":39,"y":1092},{"c":"b4","s":"W","x":41,"y":1301},{"c":"b4","s":"W","x":45,"y":1396},{"c":"b4","s":"W","x":51,"y":1420},
{"c":"b5","s":"W","x":1,"y":10},{"c":"b5","s":"W","x":4,"y":2},{"c":"b5","s":"W","x":29.5,"y":7},{"c":"b5","s":"W","x":33.5,"y":87},{"c":"b5","s":"W","x":35.5,"y":280},{"c":"b5","s":"W","x":37.5,"y":670},{"c":"b5","s":"W","x":39.5,"y":1060},{"c":"b5","s":"W","x":41.5,"y":1271},{"c":"b5","s":"W","x":45.5,"y":1369},{"c":"b5","s":"W","x":51,"y":1400},
{"c":"b6","s":"W","x":1,"y":10},{"c":"b6","s":"W","x":4,"y":2},{"c":"b6","s":"W","x":30,"y":7},{"c":"b6","s":"W","x":34,"y":85},{"c":"b6","s":"W","x":36,"y":274},{"c":"b6","s":"W","x":38,"y":655},{"c":"b6","s":"W","x":40,"y":1036},{"c":"b6","s":"W","x":42,"y":1247},{"c":"b6","s":"W","x":46,"y":1346},{"c":"b6","s":"W","x":51,"y":1380},
{"c":"b7","s":"W","x":1,"y":10},{"c":"b7","s":"W","x":4,"y":2},{"c":"b7","s":"W","x":30.5,"y":6},{"c":"b7","s":"W","x":34.5,"y":83},{"c":"b7","s":"W","x":36.5,"y":268},{"c":"b7","s":"W","x":38.5,"y":640},{"c":"b7","s":"W","x":40.5,"y":1012},{"c":"b7","s":"W","x":42.5,"y":1219},{"c":"b7","s":"W","x":46.5,"y":1319},{"c":"b7","s":"W","x":51,"y":1350},
{"c":"b8","s":"W","x":1,"y":10},{"c":"b8","s":"W","x":4,"y":2},{"c":"b8","s":"W","x":34,"y":7},{"c":"b8","s":"W","x":38,"y":90},{"c":"b8","s":"W","x":40,"y":288},{"c":"b8","s":"W","x":42,"y":690},{"c":"b8","s":"W","x":44,"y":1092},{"c":"b8","s":"W","x":46,"y":1299},{"c":"b8","s":"W","x":50,"y":1391},{"c":"b8","s":"W","x":51,"y":1400},
{"c":"b9","s":"W","x":1,"y":10},{"c":"b9","s":"W","x":4,"y":2},{"c":"b9","s":"W","x":34.6,"y":7},{"c":"b9","s":"W","x":38.6,"y":86},{"c":"b9","s":"W","x":40.6,"y":276},{"c":"b9","s":"W","x":42.6,"y":660},{"c":"b9","s":"W","x":44.6,"y":1044},{"c":"b9","s":"W","x":46.6,"y":1244},{"c":"b9","s":"W","x":51,"y":1340},
{"c":"b10","s":"W","x":1,"y":10},{"c":"b10","s":"W","x":4,"y":2},{"c":"b10","s":"W","x":35.2,"y":6},{"c":"b10","s":"W","x":39.2,"y":83},{"c":"b10","s":"W","x":41.2,"y":265},{"c":"b10","s":"W","x":43.2,"y":635},{"c":"b10","s":"W","x":45.2,"y":1005},{"c":"b10","s":"W","x":47.2,"y":1197},{"c":"b10","s":"W","x":51,"y":1280},
{"c":"s1","s":"S","x":1,"y":25},{"c":"s1","s":"S","x":4,"y":3},{"c":"s1","s":"S","x":26.3,"y":6},{"c":"s1","s":"S","x":30.3,"y":76},{"c":"s1","s":"S","x":32.3,"y":243},{"c":"s1","s":"S","x":34.3,"y":583},{"c":"s1","s":"S","x":36.3,"y":922},{"c":"s1","s":"S","x":38.3,"y":1089},{"c":"s1","s":"S","x":42.3,"y":1163},{"c":"s1","s":"S","x":51,"y":1175},
{"c":"s2","s":"S","x":1,"y":25},{"c":"s2","s":"S","x":4,"y":3},{"c":"s2","s":"S","x":26.6,"y":6},{"c":"s2","s":"S","x":30.6,"y":75},{"c":"s2","s":"S","x":32.6,"y":242},{"c":"s2","s":"S","x":34.6,"y":580},{"c":"s2","s":"S","x":36.6,"y":918},{"c":"s2","s":"S","x":38.6,"y":1085},{"c":"s2","s":"S","x":42.6,"y":1154},{"c":"s2","s":"S","x":51,"y":1170},
{"c":"s3","s":"S","x":1,"y":25},{"c":"s3","s":"S","x":4,"y":3},{"c":"s3","s":"S","x":30,"y":5},{"c":"s3","s":"S","x":34,"y":68},{"c":"s3","s":"S","x":36,"y":219},{"c":"s3","s":"S","x":38,"y":525},{"c":"s3","s":"S","x":40,"y":831},{"c":"s3","s":"S","x":42,"y":988},{"c":"s3","s":"S","x":46,"y":1057},{"c":"s3","s":"S","x":51,"y":1070},
{"c":"s4","s":"S","x":1,"y":25},{"c":"s4","s":"S","x":4,"y":3},{"c":"s4","s":"S","x":30.4,"y":5},{"c":"s4","s":"S","x":34.4,"y":65},{"c":"s4","s":"S","x":36.4,"y":209},{"c":"s4","s":"S","x":38.4,"y":500},{"c":"s4","s":"S","x":40.4,"y":791},{"c":"s4","s":"S","x":42.4,"y":941},{"c":"s4","s":"S","x":46.4,"y":1008},{"c":"s4","s":"S","x":51,"y":1020},
{"c":"s5","s":"S","x":1,"y":25},{"c":"s5","s":"S","x":4,"y":3},{"c":"s5","s":"S","x":30.8,"y":5},{"c":"s5","s":"S","x":34.8,"y":60},{"c":"s5","s":"S","x":36.8,"y":194},{"c":"s5","s":"S","x":38.8,"y":465},{"c":"s5","s":"S","x":40.8,"y":736},{"c":"s5","s":"S","x":42.8,"y":877},{"c":"s5","s":"S","x":46.8,"y":938},{"c":"s5","s":"S","x":51,"y":950},
{"c":"s6","s":"S","x":1,"y":25},{"c":"s6","s":"S","x":4,"y":3},{"c":"s6","s":"S","x":34,"y":9},{"c":"s6","s":"S","x":38,"y":74},{"c":"s6","s":"S","x":40,"y":188},{"c":"s6","s":"S","x":42,"y":380},{"c":"s6","s":"S","x":44,"y":572},{"c":"s6","s":"S","x":46,"y":686},{"c":"s6","s":"S","x":50,"y":751},{"c":"s6","s":"S","x":51,"y":765},
{"c":"s7","s":"S","x":1,"y":25},{"c":"s7","s":"S","x":4,"y":3},{"c":"s7","s":"S","x":34.4,"y":8},{"c":"s7","s":"S","x":38.4,"y":69},{"c":"s7","s":"S","x":40.4,"y":174},{"c":"s7","s":"S","x":42.4,"y":350},{"c":"s7","s":"S","x":44.4,"y":526},{"c":"s7","s":"S","x":46.4,"y":631},{"c":"s7","s":"S","x":50.4,"y":692},{"c":"s7","s":"S","x":51,"y":705},
{"c":"s8","s":"S","x":1,"y":25},{"c":"s8","s":"S","x":4,"y":3},{"c":"s8","s":"S","x":34.8,"y":8},{"c":"s8","s":"S","x":38.8,"y":67},{"c":"s8","s":"S","x":40.8,"y":169},{"c":"s8","s":"S","x":42.8,"y":340},{"c":"s8","s":"S","x":44.8,"y":511},{"c":"s8","s":"S","x":46.8,"y":613},{"c":"s8","s":"S","x":51,"y":675},
{"c":"s9","s":"S","x":1,"y":25},{"c":"s9","s":"S","x":4,"y":3},{"c":"s9","s":"S","x":35.2,"y":8},{"c":"s9","s":"S","x":39.2,"y":64},{"c":"s9","s":"S","x":41.2,"y":161},{"c":"s9","s":"S","x":43.2,"y":325},{"c":"s9","s":"S","x":45.2,"y":489},{"c":"s9","s":"S","x":47.2,"y":586},{"c":"s9","s":"S","x":51,"y":640},
{"c":"s10","s":"S","x":1,"y":25},{"c":"s10","s":"S","x":4,"y":3},{"c":"s10","s":"S","x":35.6,"y":8},{"c":"s10","s":"S","x":39.6,"y":63},{"c":"s10","s":"S","x":41.6,"y":159},{"c":"s10","s":"S","x":43.6,"y":320},{"c":"s10","s":"S","x":45.6,"y":481},{"c":"s10","s":"S","x":47.6,"y":577},{"c":"s10","s":"S","x":51,"y":630},
{"c":"s11","s":"S","x":1,"y":25},{"c":"s11","s":"S","x":4,"y":3},{"c":"s11","s":"S","x":37.2,"y":6},{"c":"s11","s":"S","x":41.2,"y":51},{"c":"s11","s":"S","x":43.2,"y":129},{"c":"s11","s":"S","x":45.2,"y":260},{"c":"s11","s":"S","x":47.2,"y":391},{"c":"s11","s":"S","x":49.2,"y":469},{"c":"s11","s":"S","x":51,"y":490},
{"c":"s12","s":"S","x":1,"y":25},{"c":"s12","s":"S","x":4,"y":3},{"c":"s12","s":"S","x":39.5,"y":7},{"c":"s12","s":"S","x":43.5,"y":45},{"c":"s12","s":"S","x":45.5,"y":102},{"c":"s12","s":"S","x":47.5,"y":190},{"c":"s12","s":"S","x":49.5,"y":260},{"c":"s12","s":"S","x":51,"y":305}
]
},
"columns": 2,
"spacing": {"row": 26, "column": 53},
"bounds": "flush",
"resolve": {"scale": {"color": "shared"}, "legend": {"color": "shared"}},
"concat": [
{
"title": "E-gene (FAM)",
"width": 276, "height": 141,
"data": {"name": "E"},
"mark": {"type": "line", "interpolate": "monotone", "strokeWidth": 1.1, "clip": true},
"encoding": {
"x": {"field": "x", "type": "quantitative", "scale": {"domain": [-1.5, 53.5], "nice": false, "zero": false}, "axis": {"values": [0,10,20,30,40,50], "labels": false, "title": null}},
"y": {"field": "y", "type": "quantitative", "scale": {"domain": [-322, 6772], "nice": false, "zero": false}, "axis": {"values": [0,1000,2000,3000,4000,5000,6000], "format": "d", "title": "Fluorescence"}},
"color": {"field": "s", "type": "nominal", "scale": {"domain": ["W","S"], "range": ["#2b96bd","#b0178e"]}, "legend": {"title": null, "orient": "none", "legendX": 208, "legendY": 331, "direction": "horizontal", "labelExpr": "datum.value == 'W' ? 'Without Saliva' : 'With Saliva'"}},
"detail": {"field": "c"}
}
},
{
"title": "RSV (Tex)",
"width": 271, "height": 141,
"data": {"name": "R"},
"mark": {"type": "line", "interpolate": "monotone", "strokeWidth": 1.1, "clip": true},
"encoding": {
"x": {"field": "x", "type": "quantitative", "scale": {"domain": [-1.5, 53.5], "nice": false, "zero": false}, "axis": {"values": [0,10,20,30,40,50], "labels": false, "title": null}},
"y": {"field": "y", "type": "quantitative", "scale": {"domain": [-115, 2225], "nice": false, "zero": false}, "axis": {"values": [0,500,1000,1500,2000], "format": "d", "title": null}},
"color": {"field": "s", "type": "nominal", "scale": {"domain": ["W","S"], "range": ["#2b96bd","#b0178e"]}, "legend": {"title": null, "orient": "none", "legendX": 208, "legendY": 331, "direction": "horizontal", "labelExpr": "datum.value == 'W' ? 'Without Saliva' : 'With Saliva'"}},
"detail": {"field": "c"}
}
},
{
"title": "INF-A (HEX)",
"width": 276, "height": 140,
"data": {"name": "A"},
"mark": {"type": "line", "interpolate": "monotone", "strokeWidth": 1.1, "clip": true},
"encoding": {
"x": {"field": "x", "type": "quantitative", "scale": {"domain": [-1.5, 53.5], "nice": false, "zero": false}, "axis": {"values": [0,10,20,30,40,50], "title": "Cycles", "titlePadding": 2}},
"y": {"field": "y", "type": "quantitative", "scale": {"domain": [-130, 2430], "nice": false, "zero": false}, "axis": {"values": [0,500,1000,1500,2000], "format": "d", "title": "Fluorescence"}},
"color": {"field": "s", "type": "nominal", "scale": {"domain": ["W","S"], "range": ["#2b96bd","#b0178e"]}, "legend": {"title": null, "orient": "none", "legendX": 208, "legendY": 331, "direction": "horizontal", "labelExpr": "datum.value == 'W' ? 'Without Saliva' : 'With Saliva'"}},
"detail": {"field": "c"}
}
},
{
"title": "INF-B (Cy5)",
"width": 271, "height": 140,
"data": {"name": "B"},
"mark": {"type": "line", "interpolate": "monotone", "strokeWidth": 1.1, "clip": true},
"encoding": {
"x": {"field": "x", "type": "quantitative", "scale": {"domain": [-1.5, 53.5], "nice": false, "zero": false}, "axis": {"values": [0,10,20,30,40,50], "title": "Cycles", "titlePadding": 2}},
"y": {"field": "y", "type": "quantitative", "scale": {"domain": [-72, 1530], "nice": false, "zero": false}, "axis": {"values": [0,250,500,750,1000,1250,1500], "format": "d", "title": null}},
"color": {"field": "s", "type": "nominal", "scale": {"domain": ["W","S"], "range": ["#2b96bd","#b0178e"]}, "legend": {"title": null, "orient": "none", "legendX": 208, "legendY": 331, "direction": "horizontal", "labelExpr": "datum.value == 'W' ? 'Without Saliva' : 'With Saliva'"}},
"detail": {"field": "c"}
}
}
],
"config": {
"font": "DejaVu Sans",
"view": {"stroke": "#cccccc", "strokeWidth": 1},
"axis": {"domain": false, "grid": false, "tickColor": "#777777", "tickSize": 3.5, "tickWidth": 1, "labelColor": "#555555", "labelFontSize": 8, "labelPadding": 2, "titleColor": "#555555", "titleFontSize": 9.5, "titleFontWeight": "normal", "titlePadding": 5},
"title": {"fontSize": 14, "fontWeight": "normal", "color": "#444444", "offset": 3},
"legend": {"symbolType": "stroke", "symbolSize": 400, "symbolStrokeWidth": 1.3, "labelFont": "Lato", "labelFontSize": 10.5, "labelColor": "#555555", "labelOffset": 7, "columnPadding": 13, "padding": 0}
}
}
